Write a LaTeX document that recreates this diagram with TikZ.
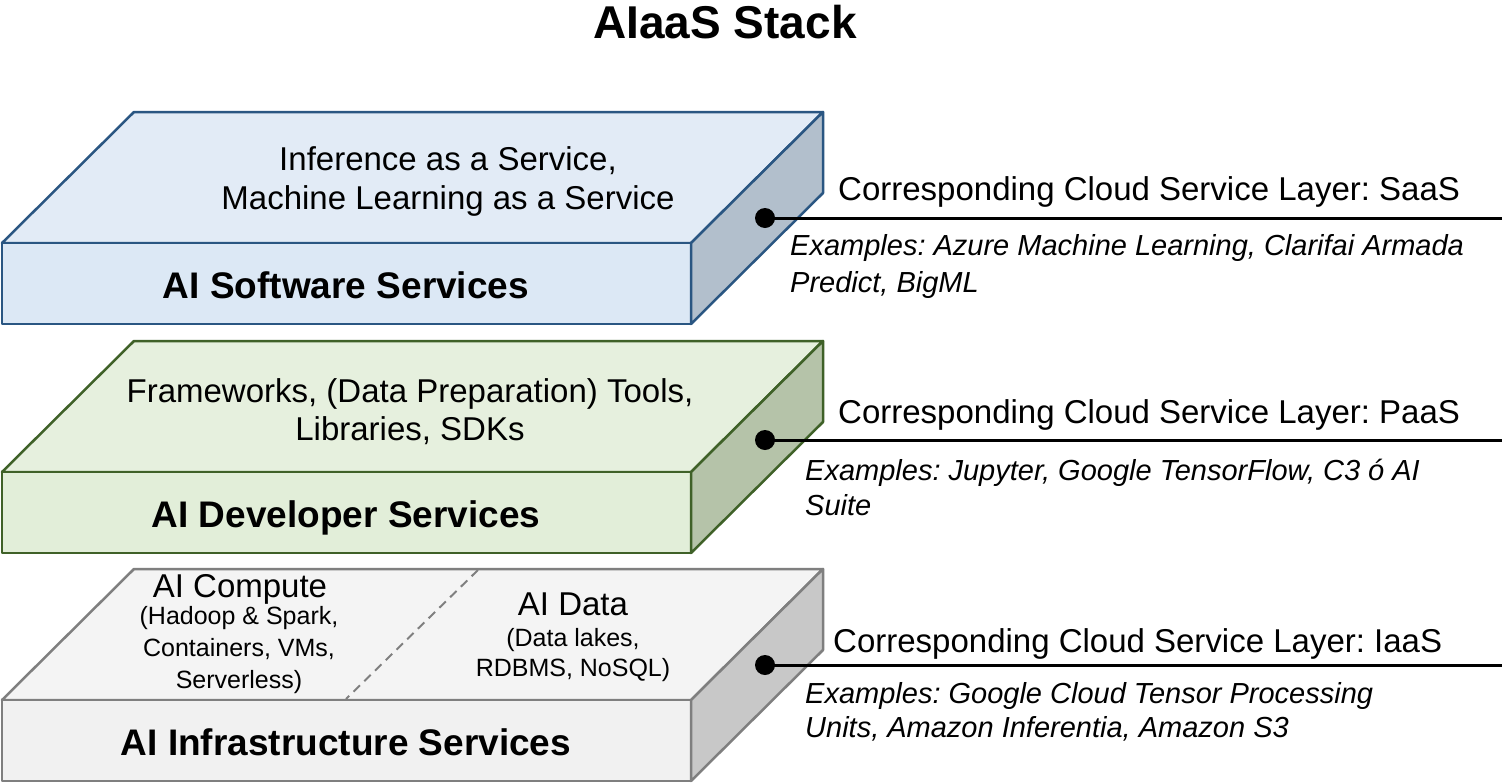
\documentclass[tikz,border=0pt]{standalone}
\usepackage{fontspec}
\setmainfont{Liberation Sans}
\frenchspacing
\definecolor{bluestroke}{HTML}{2A5682}
\definecolor{bluetop}{HTML}{E2EBF6}
\definecolor{bluefront}{HTML}{DCE8F5}
\definecolor{blueright}{HTML}{B2BFCC}
\definecolor{greenstroke}{HTML}{3F6128}
\definecolor{greentop}{HTML}{E6F0DE}
\definecolor{greenfront}{HTML}{E2EED9}
\definecolor{greenright}{HTML}{B5C3A9}
\definecolor{graystroke}{HTML}{7F7F7F}
\definecolor{graytop}{HTML}{F4F4F4}
\definecolor{grayfront}{HTML}{F1F1F1}
\definecolor{grayright}{HTML}{C8C8C8}
\newcommand{\slabdraw}[5]{%
  \filldraw[draw=#2, fill=#3, slabline] (2,#1) -- (134,{#1-131}) -- (823,{#1-131}) -- (691,#1) -- cycle;
  \filldraw[draw=#2, fill=#4, slabline] (2,#1) rectangle (691,{#1+81});
  \filldraw[draw=#2, fill=#5, slabline] (691,#1) -- (823,{#1-131}) -- (823,{#1-50}) -- (691,{#1+81}) -- cycle;
}
\begin{document}
\begin{tikzpicture}[x=1pt, y=-1pt,
  slabline/.style={line width=2.5pt, line join=round},
  toptext/.style={anchor=base, inner sep=0pt, font=\fontsize{33}{39}\selectfont},
  subtext/.style={anchor=base, inner sep=0pt, font=\fontsize{25}{30}\selectfont},
  fronttext/.style={anchor=base, inner sep=0pt, font=\fontsize{37}{44}\selectfont\bfseries},
  layertext/.style={anchor=base west, inner sep=0pt, font=\fontsize{33}{39}\selectfont},
  exampletext/.style={anchor=base west, inner sep=0pt, font=\fontsize{29}{35}\selectfont\itshape},
  dotnode/.style={circle, fill=black, minimum size=20pt, inner sep=0pt},
  conn/.style={line width=3pt, black}]
\useasboundingbox (0,0) rectangle (1502,782);
\fill[white] (0,0) rectangle (1502,782);

% title
\node[anchor=base, inner sep=0pt, font=\fontsize{46}{54}\selectfont\bfseries] (title) at (725,38) {AIaaS Stack};

% slabs
\slabdraw{243}{bluestroke}{bluetop}{bluefront}{blueright}
\slabdraw{472}{greenstroke}{greentop}{greenfront}{greenright}
\slabdraw{700}{graystroke}{graytop}{grayfront}{grayright}
\draw[graystroke, line width=2pt, dash pattern=on 9pt off 6pt] (478,570) -- (346,699);

% blue texts
\node[toptext] (inf1) at (448,170) {Inference as a Service,};
\node[toptext] (inf2) at (448,209) {Machine Learning as a Service};
\node[fronttext] (sw) at (346,298) {AI Software Services};

% green texts
\node[toptext] (fw1) at (410,402) {Frameworks, (Data Preparation) Tools,};
\node[toptext] (fw2) at (410,440) {Libraries, SDKs};
\node[fronttext] (dev) at (346,527) {AI Developer Services};

% gray texts
\node[toptext] (comp) at (240,597) {AI Compute};
\node[subtext] (comp1) at (239,624) {(Hadoop \& Spark,};
\node[subtext] (comp2) at (239,656) {Containers, VMs,};
\node[subtext] (comp3) at (239,688) {Serverless)};
\node[toptext] (data) at (573,615) {AI Data};
\node[subtext] (data1) at (573,646) {(Data lakes,};
\node[subtext] (data2) at (573,676) {RDBMS, NoSQL)};
\node[fronttext] (infra) at (346,755) {AI Infrastructure Services};

% connectors
\node[dotnode] (d1) at (765,218) {};
\node[dotnode] (d2) at (765,440) {};
\node[dotnode] (d3) at (765,665) {};
\coordinate (e1) at (1502,218);
\coordinate (e2) at (1502,440);
\coordinate (e3) at (1502,665);
\draw[conn] (d1.center) -- (e1);
\draw[conn] (d2.center) -- (e2);
\draw[conn] (d3.center) -- (e3);

% right texts
\node[layertext] (saas) at (838,200) {Corresponding Cloud Service Layer: SaaS};
\node[exampletext] (saasex1) at (790,255) {Examples: Azure Machine Learning, Clarifai Armada};
\node[exampletext] (saasex2) at (790,292) {Predict, BigML};

\node[layertext] (paas) at (838,423) {Corresponding Cloud Service Layer: PaaS};
\node[exampletext] (paasex1) at (805,480) {Examples: Jupyter, Google TensorFlow, C3 ó AI};
\node[exampletext] (paasex2) at (805,515) {Suite};

\node[layertext] (iaas) at (833,652) {Corresponding Cloud Service Layer: IaaS};
\node[exampletext] (iaasex1) at (805,703) {Examples: Google Cloud Tensor Processing};
\node[exampletext] (iaasex2) at (805,737) {Units, Amazon Inferentia, Amazon S3};
\end{tikzpicture}
\end{document}
